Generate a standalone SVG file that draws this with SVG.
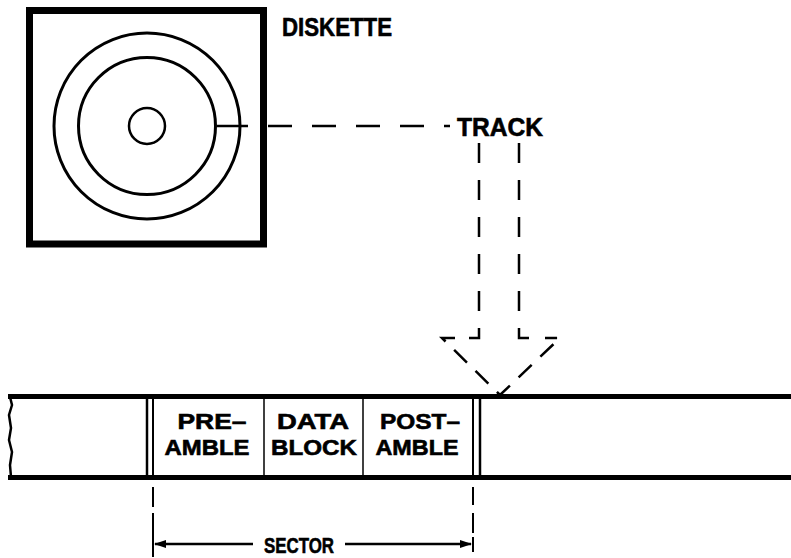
<svg xmlns="http://www.w3.org/2000/svg" width="791" height="558" viewBox="0 0 791 558">
<defs>
<style>
.t{font-family:"Liberation Sans",Arial,sans-serif;font-weight:bold;fill:#000;stroke:#000;stroke-width:0.6}
.ln{stroke:#000;fill:none}
.d{stroke:#000;fill:none;stroke-width:2.5;stroke-dasharray:20 17}
</style>
<marker id="ah" viewBox="0 0 12 8" refX="11" refY="4" markerWidth="12" markerHeight="8" markerUnits="userSpaceOnUse" orient="auto-start-reverse">
<path d="M0,0 L12,4 L0,8 Z" fill="#000"/>
</marker>
</defs>
<rect width="791" height="558" fill="#fff"/>
<g id="diskette">
<rect x="29.5" y="10.5" width="234" height="233.5" class="ln" stroke-width="7"/>
<circle cx="147" cy="126" r="93" class="ln" stroke-width="3"/>
<circle cx="147" cy="126" r="68.5" class="ln" stroke-width="3"/>
<circle cx="147" cy="126" r="18" class="ln" stroke-width="2.5"/>
<text class="t" x="282" y="36" font-size="26" textLength="110" lengthAdjust="spacingAndGlyphs">DISKETTE</text>
</g>
<g id="track">
<text class="t" x="457" y="136" font-size="26" textLength="86" lengthAdjust="spacingAndGlyphs">TRACK</text>
</g>
<g id="connectors">
<line x1="217" y1="126" x2="248" y2="126" class="ln" stroke-width="2.5"/>
<path d="M268,126 H450" class="ln" stroke-width="2.5" stroke-dasharray="24 20"/>
<path d="M479,143 V338 H465" class="d" stroke-dasharray="16 18"/>
<path d="M519,143 V338 H537" class="d" stroke-dasharray="16 18"/>
<path d="M455,338 H442 L500,395 L560,338 H545" class="ln" stroke-width="2.5" stroke-dasharray="18 12"/>
</g>
<g id="tape">
<line x1="8" y1="396.5" x2="791" y2="396.5" class="ln" stroke-width="5"/>
<line x1="8" y1="477.5" x2="791" y2="477.5" class="ln" stroke-width="5"/>
<path d="M10,397 L12,405 L9,415 L11,428 L9,440 L12,452 L10,465 L11,477" class="ln" stroke-width="2.5"/>
<line x1="147" y1="397" x2="147" y2="477" class="ln" stroke-width="2.5"/>
<line x1="153" y1="397" x2="153" y2="477" class="ln" stroke-width="2"/>
<line x1="473" y1="397" x2="473" y2="477" class="ln" stroke-width="2"/>
<line x1="480" y1="397" x2="480" y2="477" class="ln" stroke-width="2.5"/>
</g>
<g id="preamble">
<line x1="264" y1="397" x2="264" y2="477" class="ln" stroke-width="1.5"/>
<text class="t" x="212" y="429" font-size="22" text-anchor="middle" textLength="69" lengthAdjust="spacingAndGlyphs">PRE–</text>
<text class="t" x="207" y="455" font-size="22" text-anchor="middle" textLength="85" lengthAdjust="spacingAndGlyphs">AMBLE</text>
</g>
<g id="datablock">
<line x1="363" y1="397" x2="363" y2="477" class="ln" stroke-width="1.5"/>
<text class="t" x="313" y="429" font-size="22" text-anchor="middle" textLength="72" lengthAdjust="spacingAndGlyphs">DATA</text>
<text class="t" x="314" y="455" font-size="22" text-anchor="middle" textLength="86" lengthAdjust="spacingAndGlyphs">BLOCK</text>
</g>
<g id="postamble">
<text class="t" x="420" y="429" font-size="22" text-anchor="middle" textLength="80" lengthAdjust="spacingAndGlyphs">POST–</text>
<text class="t" x="417" y="455" font-size="22" text-anchor="middle" textLength="83" lengthAdjust="spacingAndGlyphs">AMBLE</text>
</g>
<g id="sector">
<path d="M153,487 V557" class="ln" stroke-width="2" stroke-dasharray="20 6 45 0"/>
<path d="M473,487 V555" class="ln" stroke-width="2" stroke-dasharray="18 8 20 4 15"/>
<line x1="155" y1="544" x2="253" y2="544" class="ln" stroke-width="2.5" marker-start="url(#ah)"/>
<line x1="345" y1="544" x2="471" y2="544" class="ln" stroke-width="2.5" marker-end="url(#ah)"/>
<text class="t" x="299" y="553" font-size="22" text-anchor="middle" textLength="70" lengthAdjust="spacingAndGlyphs">SECTOR</text>
</g>
</svg>
